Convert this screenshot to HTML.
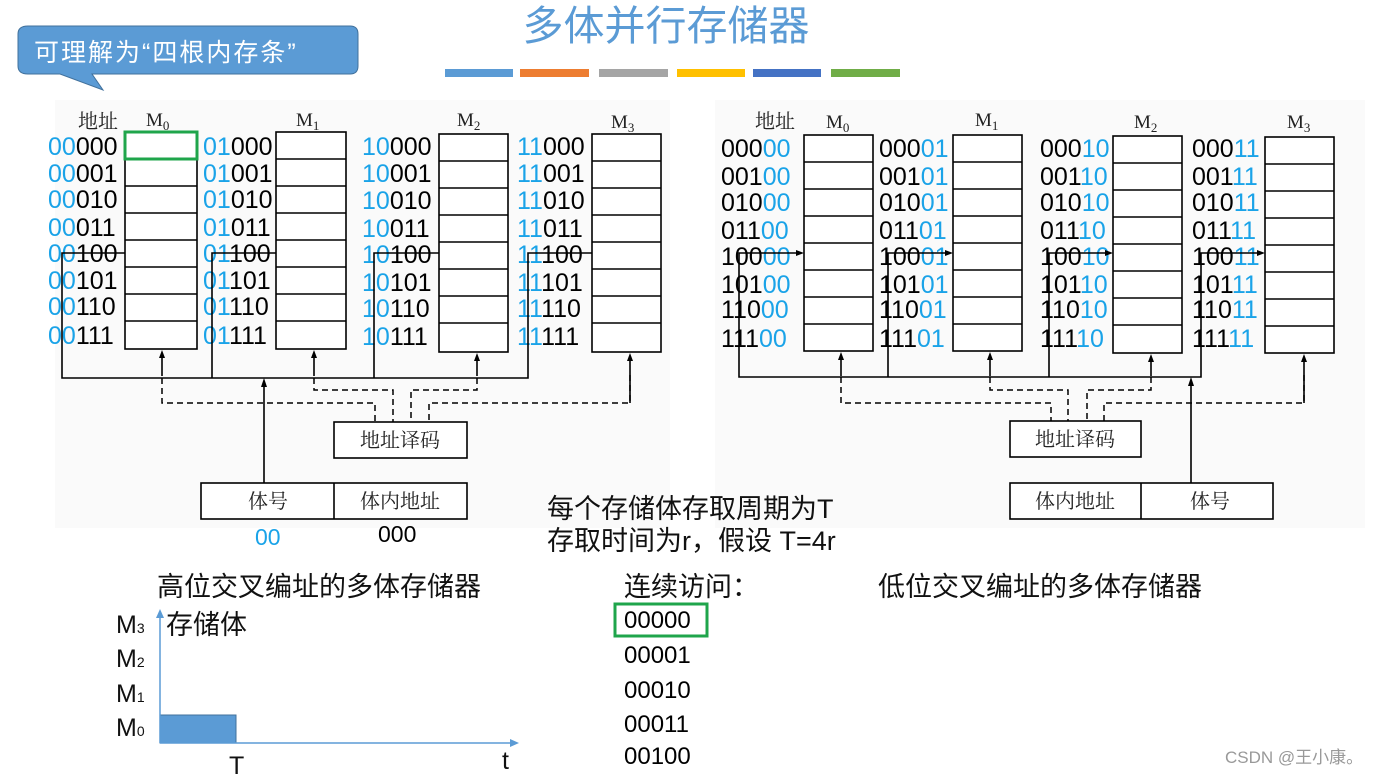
<!DOCTYPE html>
<html><head><meta charset="utf-8"><style>
html,body{margin:0;padding:0;background:#fff;}
svg{display:block;}
text{font-family:"Liberation Sans","Noto Sans CJK SC",sans-serif;}
.a{font-size:25px;fill:#000;}
.b{fill:#1aa3e8;}
.h{font-family:"Liberation Serif","Noto Serif CJK SC",serif;font-size:19px;fill:#222;}
.c{font-size:20px;fill:#222;font-family:"Liberation Serif","Noto Serif CJK SC",serif;}
.t{font-size:27px;fill:#111;}
</style></head><body>
<svg width="1376" height="776" viewBox="0 0 1376 776" xmlns="http://www.w3.org/2000/svg">
<rect x="55" y="100" width="615" height="428" fill="#fafafa"/>
<rect x="715" y="100" width="650" height="428" fill="#fafafa"/>
<!-- title -->
<text x="666" y="40" font-size="41" fill="#5b9bd5" text-anchor="middle">多体并行存储器</text>
<rect x="445" y="69" width="68" height="8" fill="#5b9bd5"/>
<rect x="520" y="69" width="69" height="8" fill="#ed7d31"/>
<rect x="599" y="69" width="69" height="8" fill="#a5a5a5"/>
<rect x="677" y="69" width="68" height="8" fill="#ffc000"/>
<rect x="753" y="69" width="68" height="8" fill="#4472c4"/>
<rect x="831" y="69" width="69" height="8" fill="#70ad47"/>
<!-- callout -->
<path d="M28,26 H350 Q358,26 358,34 V66 Q358,74 350,74 H92 L103,90 L60,74 H28 Q18,74 18,66 V34 Q18,26 28,26 Z" fill="#5b9bd5" stroke="#41719c" stroke-width="1"/>
<text x="34" y="61" font-size="25" fill="#fff" letter-spacing="2">可理解为“四根内存条”</text>

<!-- LEFT DIAGRAM -->
<g stroke="#000" stroke-width="1.6" fill="#fff">
<rect x="125" y="132" width="72" height="217"/>
<rect x="276" y="132" width="70" height="217"/>
<rect x="439" y="134" width="69" height="218"/>
<rect x="592" y="134" width="69" height="218"/>
</g>
<g stroke="#000" stroke-width="1.6">
<path d="M125,159H197M125,186H197M125,213H197M125,240H197M125,267H197M125,294H197M125,321H197"/>
<path d="M276,159H346M276,186H346M276,213H346M276,240H346M276,267H346M276,294H346M276,321H346"/>
<path d="M439,161H508M439,188H508M439,215H508M439,242H508M439,269H508M439,296H508M439,323H508"/>
<path d="M592,161H661M592,188H661M592,215H661M592,242H661M592,269H661M592,296H661M592,323H661"/>
</g>
<rect x="125" y="132" width="72" height="27" fill="none" stroke="#1fa54b" stroke-width="3"/>
<text x="78" y="128" class="c">地址</text>
<text x="146" y="126" class="h">M<tspan font-size="13" dy="4">0</tspan></text>
<text x="296" y="126" class="h">M<tspan font-size="13" dy="4">1</tspan></text>
<text x="457" y="126" class="h">M<tspan font-size="13" dy="4">2</tspan></text>
<text x="611" y="128" class="h">M<tspan font-size="13" dy="4">3</tspan></text>
<g class="a">
<text x="48" y="155"><tspan class="b">00</tspan>000</text>
<text x="48" y="182"><tspan class="b">00</tspan>001</text>
<text x="48" y="208"><tspan class="b">00</tspan>010</text>
<text x="48" y="236"><tspan class="b">00</tspan>011</text>
<text x="48" y="262"><tspan class="b">00</tspan>100</text>
<text x="48" y="289"><tspan class="b">00</tspan>101</text>
<text x="48" y="315"><tspan class="b">00</tspan>110</text>
<text x="48" y="344"><tspan class="b">00</tspan>111</text>
<text x="203" y="155"><tspan class="b">01</tspan>000</text>
<text x="203" y="182"><tspan class="b">01</tspan>001</text>
<text x="203" y="208"><tspan class="b">01</tspan>010</text>
<text x="203" y="236"><tspan class="b">01</tspan>011</text>
<text x="203" y="262"><tspan class="b">01</tspan>100</text>
<text x="203" y="289"><tspan class="b">01</tspan>101</text>
<text x="203" y="315"><tspan class="b">01</tspan>110</text>
<text x="203" y="344"><tspan class="b">01</tspan>111</text>
<text x="362" y="155"><tspan class="b">10</tspan>000</text>
<text x="362" y="182"><tspan class="b">10</tspan>001</text>
<text x="362" y="209"><tspan class="b">10</tspan>010</text>
<text x="362" y="237"><tspan class="b">10</tspan>011</text>
<text x="362" y="263"><tspan class="b">10</tspan>100</text>
<text x="362" y="291"><tspan class="b">10</tspan>101</text>
<text x="362" y="317"><tspan class="b">10</tspan>110</text>
<text x="362" y="345"><tspan class="b">10</tspan>111</text>
<text x="517" y="155"><tspan class="b">11</tspan>000</text>
<text x="517" y="182"><tspan class="b">11</tspan>001</text>
<text x="517" y="209"><tspan class="b">11</tspan>010</text>
<text x="517" y="237"><tspan class="b">11</tspan>011</text>
<text x="517" y="263"><tspan class="b">11</tspan>100</text>
<text x="517" y="291"><tspan class="b">11</tspan>101</text>
<text x="517" y="317"><tspan class="b">11</tspan>110</text>
<text x="517" y="345"><tspan class="b">11</tspan>111</text>
</g>
<g stroke="#000" stroke-width="1.6" fill="none">
<path d="M125,253H62V378H528V253H592M212,378V253H276M374,378V253H439"/>
<path d="M264,483V382"/>
<path d="M162,376V356M314,376V356M477,376V358M630,403V358" />
</g>
<g stroke="#000" stroke-width="1.5" fill="none" stroke-dasharray="6,4">
<path d="M162,378V403H375V422M630,375V403H429V422M314,378V390H393V422M477,378V390H411V422"/>
</g>
<g fill="#000">
<path d="M162,350l-3,8h6z"/><path d="M314,350l-3,8h6z"/><path d="M477,353l-3,8h6z"/><path d="M630,353l-3,8h6z"/><path d="M264,378l-3,9h6z"/>
</g>
<rect x="334" y="422" width="133" height="36" fill="#fff" stroke="#000" stroke-width="1.6"/>
<text x="400" y="447" class="c" text-anchor="middle">地址译码</text>
<rect x="201" y="483" width="266" height="36" fill="#fff" stroke="#000" stroke-width="1.6"/>
<path d="M334,483V519" stroke="#000" stroke-width="1.6"/>
<text x="268" y="508" class="c" text-anchor="middle">体号</text>
<text x="400" y="508" class="c" text-anchor="middle">体内地址</text>
<text x="255" y="545" font-size="23" fill="#1aa3e8">00</text>
<text x="378" y="542" font-size="23" fill="#000">000</text>

<!-- RIGHT DIAGRAM -->
<g stroke="#000" stroke-width="1.6" fill="#fff">
<rect x="804" y="135" width="69" height="216"/>
<rect x="953" y="135" width="69" height="216"/>
<rect x="1113" y="136" width="69" height="217"/>
<rect x="1265" y="137" width="69" height="216"/>
</g>
<g stroke="#000" stroke-width="1.6">
<path d="M804,162H873M804,189H873M804,216H873M804,243H873M804,270H873M804,297H873M804,324H873"/>
<path d="M953,162H1022M953,189H1022M953,216H1022M953,243H1022M953,270H1022M953,297H1022M953,324H1022"/>
<path d="M1113,163H1182M1113,190H1182M1113,217H1182M1113,244H1182M1113,271H1182M1113,298H1182M1113,325H1182"/>
<path d="M1265,164H1334M1265,191H1334M1265,218H1334M1265,245H1334M1265,272H1334M1265,299H1334M1265,326H1334"/>
</g>
<text x="755" y="128" class="c">地址</text>
<text x="826" y="128" class="h">M<tspan font-size="13" dy="4">0</tspan></text>
<text x="975" y="126" class="h">M<tspan font-size="13" dy="4">1</tspan></text>
<text x="1134" y="128" class="h">M<tspan font-size="13" dy="4">2</tspan></text>
<text x="1287" y="128" class="h">M<tspan font-size="13" dy="4">3</tspan></text>
<g class="a">
<text x="721" y="157">000<tspan class="b">00</tspan></text>
<text x="721" y="185">001<tspan class="b">00</tspan></text>
<text x="721" y="211">010<tspan class="b">00</tspan></text>
<text x="721" y="239">011<tspan class="b">00</tspan></text>
<text x="721" y="265">100<tspan class="b">00</tspan></text>
<text x="721" y="293">101<tspan class="b">00</tspan></text>
<text x="721" y="318">110<tspan class="b">00</tspan></text>
<text x="721" y="347">111<tspan class="b">00</tspan></text>
<text x="879" y="157">000<tspan class="b">01</tspan></text>
<text x="879" y="185">001<tspan class="b">01</tspan></text>
<text x="879" y="211">010<tspan class="b">01</tspan></text>
<text x="879" y="239">011<tspan class="b">01</tspan></text>
<text x="879" y="265">100<tspan class="b">01</tspan></text>
<text x="879" y="293">101<tspan class="b">01</tspan></text>
<text x="879" y="318">110<tspan class="b">01</tspan></text>
<text x="879" y="347">111<tspan class="b">01</tspan></text>
<text x="1040" y="157">000<tspan class="b">10</tspan></text>
<text x="1040" y="185">001<tspan class="b">10</tspan></text>
<text x="1040" y="211">010<tspan class="b">10</tspan></text>
<text x="1040" y="239">011<tspan class="b">10</tspan></text>
<text x="1040" y="265">100<tspan class="b">10</tspan></text>
<text x="1040" y="293">101<tspan class="b">10</tspan></text>
<text x="1040" y="318">110<tspan class="b">10</tspan></text>
<text x="1040" y="347">111<tspan class="b">10</tspan></text>
<text x="1192" y="157">000<tspan class="b">11</tspan></text>
<text x="1192" y="185">001<tspan class="b">11</tspan></text>
<text x="1192" y="211">010<tspan class="b">11</tspan></text>
<text x="1192" y="239">011<tspan class="b">11</tspan></text>
<text x="1192" y="265">100<tspan class="b">11</tspan></text>
<text x="1192" y="293">101<tspan class="b">11</tspan></text>
<text x="1192" y="318">110<tspan class="b">11</tspan></text>
<text x="1192" y="347">111<tspan class="b">11</tspan></text>
</g>
<g stroke="#000" stroke-width="1.6" fill="none">
<path d="M800,253H739V377H1201V253H1261M888,377V253H949M1049,377V253H1109"/>
<path d="M1191,483V383"/>
<path d="M841,376V358M990,376V358M1151,376V360M1304,403V360"/>
</g>
<g stroke="#000" stroke-width="1.5" fill="none" stroke-dasharray="6,4">
<path d="M841,377V403H1051V421M1304,375V403H1104V421M990,377V390H1068V421M1151,377V390H1087V421"/>
</g>
<g fill="#000">
<path d="M841,352l-3,8h6z"/><path d="M990,352l-3,8h6z"/><path d="M1151,354l-3,8h6z"/><path d="M1304,354l-3,8h6z"/><path d="M1191,377l-3,9h6z"/>
<path d="M804,253l-8,-3v6z"/><path d="M953,253l-8,-3v6z"/><path d="M1113,253l-8,-3v6z"/><path d="M1265,253l-8,-3v6z"/>
</g>
<rect x="1010" y="421" width="131" height="36" fill="#fff" stroke="#000" stroke-width="1.6"/>
<text x="1075" y="446" class="c" text-anchor="middle">地址译码</text>
<rect x="1010" y="483" width="263" height="36" fill="#fff" stroke="#000" stroke-width="1.6"/>
<path d="M1141,483V519" stroke="#000" stroke-width="1.6"/>
<text x="1075" y="508" class="c" text-anchor="middle">体内地址</text>
<text x="1210" y="508" class="c" text-anchor="middle">体号</text>

<!-- middle text -->
<text x="547" y="518" class="t" font-size="28">每个存储体存取周期为T</text>
<text x="547" y="550" class="t" font-size="28">存取时间为r，假设 T=4r</text>
<text x="157" y="596" class="t" font-size="28">高位交叉编址的多体存储器</text>
<text x="624" y="596" class="t" font-size="28">连续访问：</text>
<text x="878" y="596" class="t" font-size="28">低位交叉编址的多体存储器</text>

<!-- timing chart -->
<text x="166" y="634" class="t" font-size="28">存储体</text>
<g font-size="25" fill="#111">
<text x="116" y="633">M<tspan font-size="14">3</tspan></text>
<text x="116" y="667">M<tspan font-size="14">2</tspan></text>
<text x="116" y="702">M<tspan font-size="14">1</tspan></text>
<text x="116" y="736">M<tspan font-size="14">0</tspan></text>
<text x="229" y="774">T</text>
<text x="502" y="769">t</text>
</g>
<rect x="160" y="715" width="76" height="28" fill="#5b9bd5" stroke="#41719c" stroke-width="1"/>
<path d="M160,743V616M160,743H512" stroke="#5b9bd5" stroke-width="1.5" fill="none"/>
<path d="M160,609l-4,9h8z" fill="#5b9bd5"/>
<path d="M519,743l-9,-4v8z" fill="#5b9bd5"/>

<!-- sequence -->
<rect x="615" y="604" width="92" height="32" fill="none" stroke="#1fa54b" stroke-width="3"/>
<g font-size="24" fill="#000">
<text x="624" y="628">00000</text>
<text x="624" y="663">00001</text>
<text x="624" y="698">00010</text>
<text x="624" y="732">00011</text>
<text x="624" y="764">00100</text>
</g>
<text x="1225" y="763" font-size="17" fill="#999">CSDN @王小康。</text>
</svg>
</body></html>
